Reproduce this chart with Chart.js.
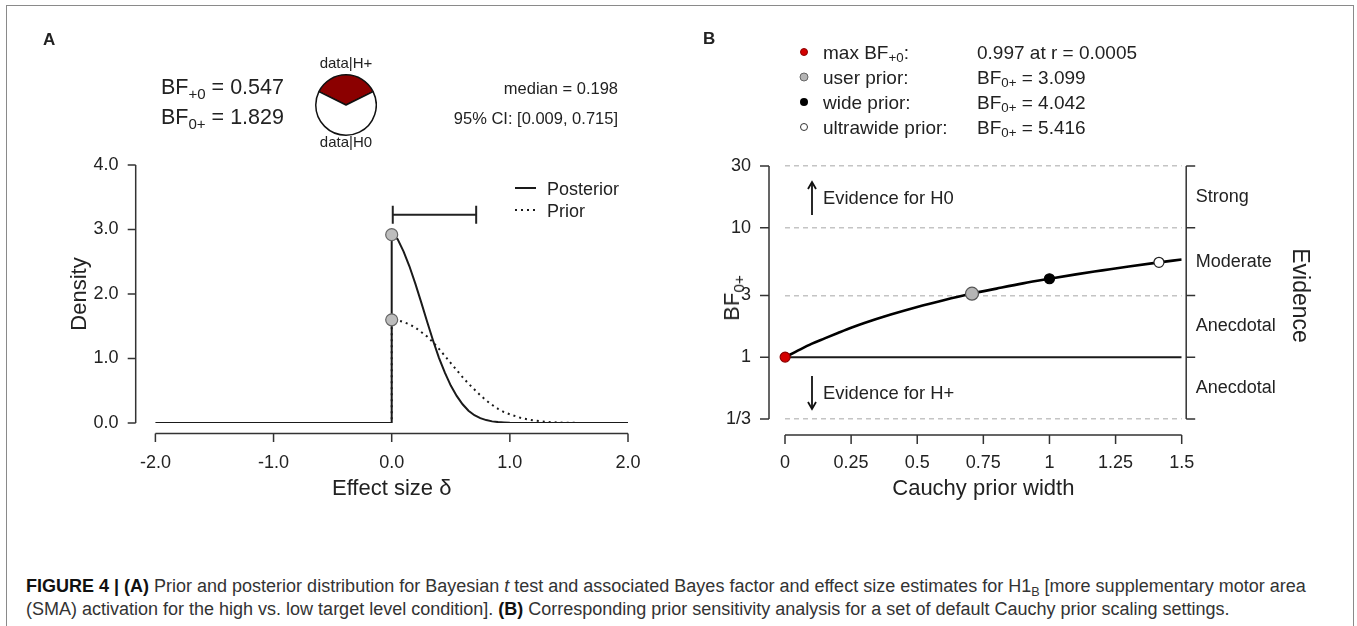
<!DOCTYPE html>
<html>
<head>
<meta charset="utf-8">
<script src="https://cdn.jsdelivr.net/npm/chart.js@4.4.1/dist/chart.umd.min.js"></script>
<style>
body { margin:0; background:#fff; font-family:'Liberation Sans', Arial, sans-serif; color:#222; }
#page { position:relative; width:1357px; height:626px; overflow:hidden; background:#fff; }
#frame { position:absolute; left:6px; top:5px; width:1348px; height:700px; border:1.5px solid #8a8a8a; box-sizing:border-box; }
canvas { position:absolute; }
.t { position:absolute; white-space:nowrap; line-height:1; transform:translateY(-50%); }
.c { transform:translate(-50%,-50%); }
.r { text-align:right; }
sub { font-size:0.7em; vertical-align:-0.3em; line-height:0; }
.dot { position:absolute; border-radius:50%; transform:translate(-50%,-50%); box-sizing:border-box; }
#caption { position:absolute; left:26px; top:575px; font-size:18px; line-height:23px; color:#333; white-space:nowrap; }
#caption b { color:#111; }
</style>
</head>
<body>
<div id="page">
  <div id="frame"></div>

  <canvas id="chartA" width="680" height="520" style="left:0;top:0"></canvas>
  <canvas id="pie" width="62" height="62" style="left:315px;top:74px"></canvas>
  <canvas id="chartB" width="667" height="520" style="left:690px;top:0"></canvas>

  <!-- panel A text -->
  <div class="t" style="left:43px;top:39px;font-size:17px;font-weight:bold">A</div>
  <div class="t" style="left:161px;top:88px;font-size:21.5px">BF<sub>+0</sub> = 0.547</div>
  <div class="t" style="left:161px;top:118px;font-size:21.5px">BF<sub>0+</sub> = 1.829</div>
  <div class="t c" style="left:346px;top:62px;font-size:15px">data|H+</div>
  <div class="t c" style="left:346px;top:141px;font-size:15px">data|H0</div>
  <div class="t r" style="right:739px;top:88px;font-size:16.5px">median = 0.198</div>
  <div class="t r" style="right:739px;top:118px;font-size:16.5px">95% CI: [0.009, 0.715]</div>
  <svg style="position:absolute;left:514px;top:183px" width="24" height="32">
    <line x1="1" y1="5" x2="22" y2="5" stroke="#1a1a1a" stroke-width="2"/>
    <line x1="1" y1="27" x2="22" y2="27" stroke="#1a1a1a" stroke-width="2" stroke-dasharray="2,4"/>
  </svg>
  <div class="t" style="left:547px;top:189px;font-size:18px">Posterior</div>
  <div class="t" style="left:547px;top:211px;font-size:18px">Prior</div>

  <!-- panel B text -->
  <div class="t" style="left:703px;top:38px;font-size:17px;font-weight:bold">B</div>
  <div class="dot" style="left:804px;top:52px;width:8px;height:8px;background:#d40000;border:1px solid #8b0000"></div>
  <div class="dot" style="left:804px;top:77px;width:9px;height:9px;background:#b5b5b5;border:1px solid #666"></div>
  <div class="dot" style="left:804px;top:102px;width:8px;height:8px;background:#000"></div>
  <div class="dot" style="left:804px;top:127px;width:8px;height:8px;background:#fff;border:1px solid #333"></div>
  <div class="t" style="left:823px;top:52px;font-size:19px">max BF<sub>+0</sub>:</div>
  <div class="t" style="left:823px;top:77px;font-size:19px">user prior:</div>
  <div class="t" style="left:823px;top:102px;font-size:19px">wide prior:</div>
  <div class="t" style="left:823px;top:127px;font-size:19px">ultrawide prior:</div>
  <div class="t" style="left:977px;top:52px;font-size:19px">0.997 at r = 0.0005</div>
  <div class="t" style="left:977px;top:77px;font-size:19px">BF<sub>0+</sub> = 3.099</div>
  <div class="t" style="left:977px;top:102px;font-size:19px">BF<sub>0+</sub> = 4.042</div>
  <div class="t" style="left:977px;top:127px;font-size:19px">BF<sub>0+</sub> = 5.416</div>

  <svg style="position:absolute;left:804px;top:178px" width="16" height="240">
    <line x1="8" y1="4" x2="8" y2="37" stroke="#111" stroke-width="1.8"/>
    <polyline points="4,11 8,4 12,11" fill="none" stroke="#111" stroke-width="1.8"/>
    <line x1="8" y1="198" x2="8" y2="231" stroke="#111" stroke-width="1.8"/>
    <polyline points="4,224 8,231 12,224" fill="none" stroke="#111" stroke-width="1.8"/>
  </svg>
  <div class="t" style="left:823px;top:198px;font-size:18.4px">Evidence for H0</div>
  <div class="t" style="left:823px;top:393px;font-size:18.4px">Evidence for H+</div>
  <div class="t" style="left:732px;top:298px;font-size:22px;transform:translate(-50%,-50%) rotate(-90deg)">BF<sub>0+</sub></div>

  <div id="caption"><b>FIGURE 4 | (A)</b> Prior and posterior distribution for Bayesian <i>t</i> test and associated Bayes factor and effect size estimates for H1<sub>B</sub> [more supplementary motor area<br>(SMA) activation for the high vs. low target level condition]. <b>(B)</b> Corresponding prior sensitivity analysis for a set of default Cauchy prior scaling settings.</div>
</div>

<script>
// panel A: densities
const deltaGrid = [-2, 0, 0, 0.05, 0.1, 0.15, 0.2, 0.25, 0.3, 0.35, 0.4, 0.45, 0.5, 0.55, 0.6, 0.65, 0.7, 0.75, 0.8, 0.85, 0.9, 0.95, 1.0, 1.1, 1.2, 1.3, 1.4, 1.5, 1.6, 1.7, 1.8, 1.9, 2.0]
const posteriorDensity = [0, 0, 2.92, 2.85, 2.66, 2.43, 2.16, 1.87, 1.57, 1.28, 1.01, 0.78, 0.58, 0.42, 0.29, 0.19, 0.12, 0.075, 0.045, 0.025, 0.014, 0.008, 0.004, 0.001, 0, 0, 0, 0, 0, 0, 0, 0, 0]
const priorDensity = [0, 0, 1.60, 1.595, 1.565, 1.53, 1.48, 1.41, 1.34, 1.25, 1.15, 1.04, 0.93, 0.82, 0.71, 0.61, 0.52, 0.43, 0.35, 0.28, 0.22, 0.17, 0.135, 0.075, 0.04, 0.018, 0.008, 0.003, 0.001, 0, 0, 0, 0]
const credibleInterval = [0.009, 0.715]
const densityTicks = [0, 1, 2, 3, 4]
const deltaTicks = [-2, -1, 0, 1, 2]
const bfPlus0 = 0.547

// panel B: robustness curve
const priorWidths = [0, 0.05, 0.1, 0.15, 0.2, 0.25, 0.3, 0.4, 0.5, 0.6, 0.7, 0.8, 0.9, 1.0, 1.1, 1.2, 1.3, 1.4, 1.5]
const bf0plus = [1.0, 1.13, 1.27, 1.40, 1.54, 1.69, 1.84, 2.14, 2.45, 2.76, 3.08, 3.39, 3.72, 4.04, 4.37, 4.69, 5.03, 5.36, 5.69]
const markedPriors = [
    {name: 'max', r: 0.0005, bf: 1 / 0.997},
    {name: 'user', r: 0.707, bf: 3.099},
    {name: 'wide', r: 1, bf: 4.042},
    {name: 'ultrawide', r: 1.414, bf: 5.416}
]
const bfTicks = [1/3, 1, 3, 10, 30]
const bfTickLabels = ['1/3', '1', '3', '10', '30']
const evidenceAt = [0.577, 1.732, 5.477, 17.32]
const evidenceLabels = ['Anecdotal', 'Anecdotal', 'Moderate', 'Strong']
const widthTicks = [0, 0.25, 0.5, 0.75, 1, 1.25, 1.5]
const widthTickLabels = ['0', '0.25', '0.5', '0.75', '1', '1.25', '1.5']

Chart.defaults.font.family = "'Liberation Sans', Arial, sans-serif"
Chart.defaults.color = '#222'
Chart.defaults.animation = false

// R style axes: line only between first and last tick, set off from the plot area
const rAxes = {
    id: 'rAxes',
    afterDraw(chart, args, opts) {
        const ctx = chart.ctx
        const area = chart.chartArea
        ctx.save()
        ctx.strokeStyle = '#333'
        ctx.lineWidth = 1.5
        opts.axes.forEach(ax => {
            const s = chart.scales[ax.scale]
            const px = s.ticks.map(t => s.getPixelForValue(t.value))
            const lo = Math.min(...px), hi = Math.max(...px)
            ctx.beginPath()
            if (ax.side === 'bottom') {
                const y = area.bottom + ax.gap
                ctx.moveTo(lo, y); ctx.lineTo(hi, y)
                px.forEach(p => { ctx.moveTo(p, y); ctx.lineTo(p, y + ax.len) })
            } else if (ax.side === 'left') {
                const x = area.left - ax.gap
                ctx.moveTo(x, lo); ctx.lineTo(x, hi)
                px.forEach(p => { ctx.moveTo(x, p); ctx.lineTo(x - ax.len, p) })
            } else {
                const x = area.right + ax.gap
                ctx.moveTo(x, lo); ctx.lineTo(x, hi)
                px.forEach(p => { ctx.moveTo(x, p); ctx.lineTo(x + ax.len, p) })
            }
            ctx.stroke()
        })
        ctx.restore()
    }
}

const ciY = 3.23, capH = 0.14
const ciBar = [
    {x: credibleInterval[0], y: ciY + capH}, {x: credibleInterval[0], y: ciY - capH},
    {x: credibleInterval[0], y: ciY}, {x: credibleInterval[1], y: ciY},
    {x: credibleInterval[1], y: ciY + capH}, {x: credibleInterval[1], y: ciY - capH}
]

new Chart(document.querySelector('#chartA'), {
    type: 'line',
    data: {
        datasets: [
            {data: [{x: 0, y: posteriorDensity[2]}, {x: 0, y: priorDensity[2]}], showLine: false,
             pointRadius: 6, backgroundColor: '#bdbdbd', borderColor: '#666', borderWidth: 1.2},
            {data: ciBar, borderColor: '#222', borderWidth: 2, pointRadius: 0},
            {data: deltaGrid.map((x, i) => ({x, y: posteriorDensity[i]})),
             borderColor: '#1a1a1a', borderWidth: 2, pointRadius: 0},
            {data: deltaGrid.map((x, i) => ({x, y: priorDensity[i]})),
             borderColor: '#1a1a1a', borderWidth: 2, borderDash: [2, 4], pointRadius: 0}
        ]
    },
    options: {
        responsive: false,
        layout: {padding: {top: 165, right: 52, left: 0, bottom: 0}},
        plugins: {
            legend: {display: false}, tooltip: {enabled: false},
            rAxes: {axes: [{scale: 'x', side: 'bottom', gap: 10.5, len: 8.5}, {scale: 'y', side: 'left', gap: 19.7, len: 8}]}
        },
        scales: {
            x: {
                type: 'linear', min: -2, max: 2,
                afterBuildTicks: s => { s.ticks = deltaTicks.map(v => ({value: v})) },
                afterFit: s => { s.height = 97 },
                grid: {display: false, drawTicks: false}, border: {display: false},
                ticks: {font: {size: 18}, padding: 29, callback: v => v.toFixed(1)},
                title: {display: true, text: 'Effect size δ', font: {size: 22}, padding: {top: 0, bottom: 18}}
            },
            y: {
                min: 0, max: 4,
                afterBuildTicks: s => { s.ticks = densityTicks.map(v => ({value: v})) },
                afterFit: s => { s.width = 155.4 },
                grid: {display: false, drawTicks: false}, border: {display: false},
                ticks: {font: {size: 18}, padding: 37, callback: v => v.toFixed(1)},
                title: {display: true, text: 'Density', font: {size: 22}, padding: {top: 67, bottom: 0}}
            }
        }
    },
    plugins: [rAxes]
})

// pie: p(data|H+) against p(data|H0), red slice centred on top
const pHplus = bfPlus0 / (bfPlus0 + 1)
new Chart(document.querySelector('#pie'), {
    type: 'pie',
    data: {
        labels: ['data|H+', 'data|H0'],
        datasets: [{data: [bfPlus0, 1], backgroundColor: ['#8b0000', '#ffffff'], borderColor: '#111', borderWidth: 1.5}]
    },
    options: {
        responsive: false,
        rotation: -pHplus * 180,
        plugins: {legend: {display: false}, tooltip: {enabled: false}}
    }
})

const markerStyle = {
    max: {bg: '#d40000', border: '#8b0000', r: 5},
    user: {bg: '#b5b5b5', border: '#555', r: 6.5},
    wide: {bg: '#000', border: '#000', r: 5},
    ultrawide: {bg: '#fff', border: '#222', r: 5}
}

new Chart(document.querySelector('#chartB'), {
    type: 'line',
    data: {
        datasets: [
            {data: markedPriors.map(p => ({x: p.r, y: p.bf})), showLine: false, clip: false,
             pointRadius: markedPriors.map(p => markerStyle[p.name].r),
             pointBackgroundColor: markedPriors.map(p => markerStyle[p.name].bg),
             pointBorderColor: markedPriors.map(p => markerStyle[p.name].border),
             pointBorderWidth: 1.2},
            {data: priorWidths.map((x, i) => ({x, y: bf0plus[i]})),
             borderColor: '#000', borderWidth: 2.6, pointRadius: 0, cubicInterpolationMode: 'monotone'},
            {data: [{x: 0, y: 1}, {x: 1.5, y: 1}], borderColor: '#1a1a1a', borderWidth: 2, pointRadius: 0}
        ]
    },
    options: {
        responsive: false,
        layout: {padding: {top: 166, right: 0, left: 0, bottom: 0}},
        plugins: {
            legend: {display: false}, tooltip: {enabled: false},
            rAxes: {axes: [
                {scale: 'x', side: 'bottom', gap: 10, len: 9},
                {scale: 'y', side: 'left', gap: 16, len: 9},
                {scale: 'y', side: 'right', gap: 4.5, len: 9}
            ]}
        },
        scales: {
            x: {
                type: 'linear', min: 0, max: 1.5,
                afterBuildTicks: s => { s.ticks = widthTicks.map(v => ({value: v})) },
                afterFit: s => { s.height = 95 },
                grid: {display: false, drawTicks: false}, border: {display: false},
                ticks: {font: {size: 18}, padding: 27, callback: (v, i) => widthTickLabels[i]},
                title: {display: true, text: 'Cauchy prior width', font: {size: 22}, padding: {top: 0, bottom: 18}}
            },
            y: {
                type: 'logarithmic', min: 1/3, max: 30,
                afterBuildTicks: s => { s.ticks = bfTicks.map(v => ({value: v})) },
                afterFit: s => { s.width = 95 },
                grid: {drawTicks: false, lineWidth: 1.5, color: c => c.tick && c.tick.value === 1 ? 'rgba(0,0,0,0)' : '#c4c4c4'},
                border: {display: false, dash: [5, 4]},
                ticks: {font: {size: 18}, padding: 34, callback: (v, i) => bfTickLabels[i]}
            },
            y2: {
                type: 'logarithmic', position: 'right', min: 1/3, max: 30,
                afterBuildTicks: s => { s.ticks = evidenceAt.map(v => ({value: v})) },
                afterFit: s => { s.width = 175.3 },
                grid: {display: false, drawTicks: false}, border: {display: false},
                ticks: {font: {size: 18}, padding: 14, callback: (v, i) => evidenceLabels[i]},
                title: {display: true, text: 'Evidence', font: {size: 23}, padding: {top: 44, bottom: 0}}
            }
        }
    },
    plugins: [rAxes]
})
</script>
</body>
</html>
